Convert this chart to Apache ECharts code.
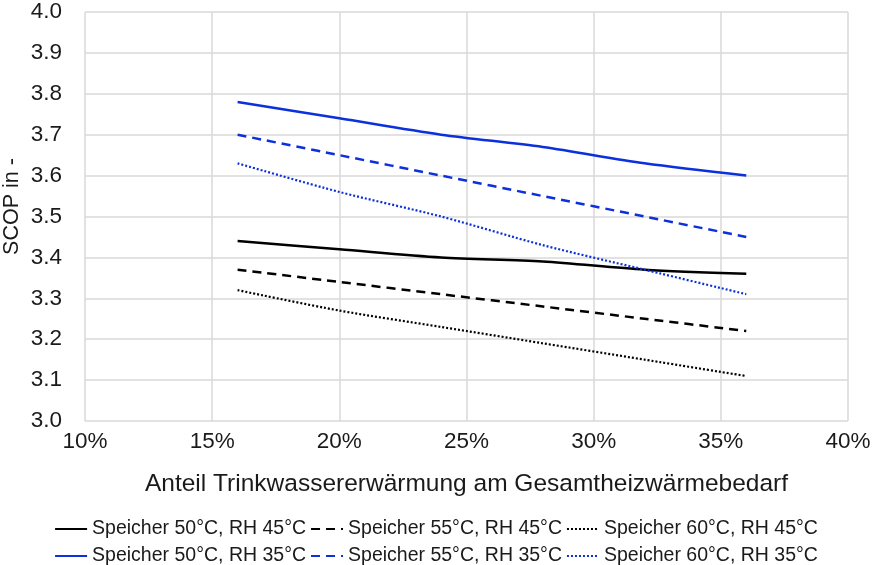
<!DOCTYPE html>
<html>
<head>
<meta charset="utf-8">
<script src="https://cdn.jsdelivr.net/npm/echarts@6/dist/echarts.min.js"></script>
<style>html,body{margin:0;padding:0;background:#fff}#c{width:872px;height:565px}</style>
</head>
<body>
<div id="c"></div>
<script>
const xValues = [16, 20, 24, 28, 32, 36];
const s50_45 = [3.44, 3.42, 3.40, 3.39, 3.37, 3.36];
const s55_45 = [3.37, 3.34, 3.31, 3.28, 3.25, 3.22];
const s60_45 = [3.32, 3.27, 3.23, 3.19, 3.15, 3.11];
const s50_35 = [3.78, 3.74, 3.70, 3.67, 3.63, 3.60];
const s55_35 = [3.70, 3.65, 3.60, 3.55, 3.50, 3.45];
const s60_35 = [3.63, 3.56, 3.50, 3.43, 3.37, 3.31];
const names = [
  'Speicher 50°C, RH 45°C', 'Speicher 55°C, RH 45°C', 'Speicher 60°C, RH 45°C',
  'Speicher 50°C, RH 35°C', 'Speicher 55°C, RH 35°C', 'Speicher 60°C, RH 35°C'
];
const BLACK = '#000000';
const BLUE = '#0b30dc';
const FONT = 'Liberation Sans';

function pair(ys) { return xValues.map((x, i) => [x, ys[i]]); }
function mk(name, ys, color, type, width) {
  return {
    name: name, type: 'line', data: pair(ys), smooth: 0.3, symbol: 'none',
    lineStyle: { color: color, width: width, type: type, cap: 'butt' },
    itemStyle: { color: color }
  };
}
const dash = [9, 6];
const dot = [2, 2];
const chart = echarts.init(document.getElementById('c'));
const legendCommon = {
  itemWidth: 32, itemHeight: 14, itemGap: 4, left: 'center',
  itemStyle: { opacity: 0, borderWidth: 0 },
  textStyle: { fontFamily: FONT, fontSize: 19.5, color: '#1a1a1a' }
};
chart.setOption({
  animation: false,
  backgroundColor: '#fff',
  grid: { left: 85, right: 24, top: 12, bottom: 144, containLabel: false, outerBoundsMode: 'none' },
  xAxis: {
    type: 'value', min: 10, max: 40, interval: 5,
    name: 'Anteil Trinkwassererwärmung am Gesamtheizwärmebedarf',
    nameLocation: 'middle', nameGap: 51, nameMoveOverlap: false,
    nameTextStyle: { fontFamily: FONT, fontSize: 24.5, color: '#1a1a1a' },
    axisLine: { show: false }, axisTick: { show: false },
    axisLabel: { formatter: '{value}%', fontFamily: FONT, fontSize: 22.5, color: '#1a1a1a', margin: 9 },
    splitLine: { show: true, lineStyle: { color: '#d9d9d9', width: 1.5 } }
  },
  yAxis: {
    type: 'value', min: 3.0, max: 4.0, interval: 0.1,
    name: 'SCOP in -', nameLocation: 'middle', nameGap: 62, nameRotate: 90, nameMoveOverlap: false,
    nameTextStyle: { fontFamily: FONT, fontSize: 21.5, color: '#1a1a1a', padding: [0, 0, 0, 20] },
    axisLine: { show: false }, axisTick: { show: false },
    axisLabel: { formatter: v => v.toFixed(1), fontFamily: FONT, fontSize: 22.5, color: '#1a1a1a', margin: 23 },
    splitLine: { show: true, lineStyle: { color: '#d9d9d9', width: 1.5 } }
  },
  legend: [
    Object.assign({ top: 514, data: names.slice(0, 3) }, legendCommon),
    Object.assign({ top: 541, data: names.slice(3, 6) }, legendCommon)
  ],
  series: [
    mk(names[0], s50_45, BLACK, 'solid', 2.5),
    mk(names[1], s55_45, BLACK, dash, 2.5),
    mk(names[2], s60_45, BLACK, dot, 2.2),
    mk(names[3], s50_35, BLUE, 'solid', 2.5),
    mk(names[4], s55_35, BLUE, dash, 2.5),
    mk(names[5], s60_35, BLUE, dot, 2.2)
  ]
});
</script>
</body>
</html>
